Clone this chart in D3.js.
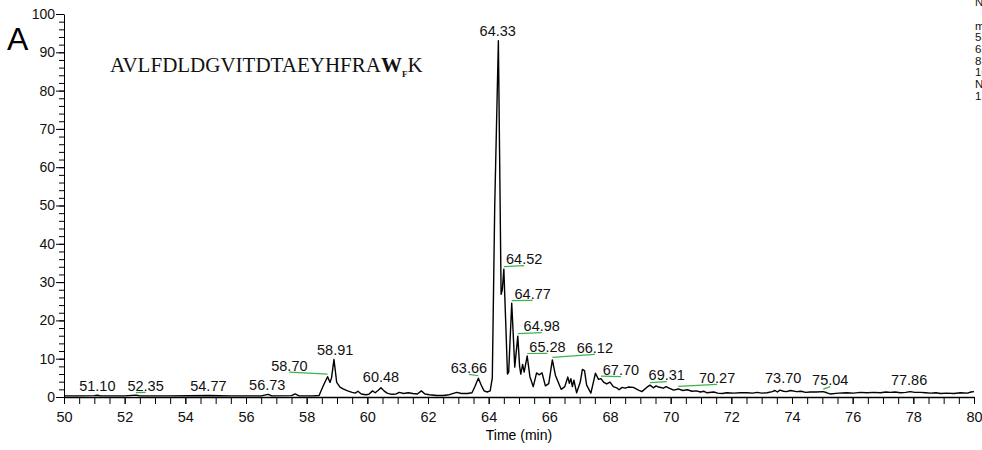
<!DOCTYPE html>
<html>
<head>
<meta charset="utf-8">
<script src="https://cdn.jsdelivr.net/npm/d3@7"></script>
<style>
  body { margin: 0; background: #fff; }
  svg { display: block; font-family: "Liberation Sans", Arial, sans-serif; }
</style>
</head>
<body>
<script>
// chromatogram trace: [time (min), relative abundance]
const trace = [
  [50.0, 0.3], [50.5, 0.3], [51.0, 0.35], [51.1, 0.45], [51.2, 0.3], [52.0, 0.3],
  [52.37, 0.5], [52.5, 0.3], [53.5, 0.3], [54.77, 0.4], [55.5, 0.3], [56.5, 0.3],
  [56.73, 0.7], [56.85, 0.3], [57.5, 0.35], [57.62, 0.8], [57.75, 0.3], [58.2, 0.3],
  [58.41, 0.4], [58.55, 3.0], [58.69, 5.3], [58.77, 3.8], [58.82, 5.0], [58.9, 9.8],
  [58.99, 3.8], [59.1, 2.6], [59.2, 2.1], [59.35, 1.6], [59.5, 1.2], [59.6, 1.0],
  [59.69, 1.5], [59.8, 0.8], [59.95, 0.6], [60.05, 0.7], [60.17, 1.6], [60.26, 1.1],
  [60.35, 1.7], [60.45, 2.4], [60.55, 1.6], [60.65, 1.0], [60.8, 0.7], [60.95, 0.8],
  [61.05, 1.2], [61.2, 0.9], [61.35, 1.1], [61.5, 0.9], [61.65, 0.8], [61.78, 1.6],
  [61.9, 0.8], [62.05, 0.6], [62.3, 0.4], [62.5, 0.4], [62.7, 0.6], [62.95, 1.2],
  [63.1, 0.9], [63.3, 0.9], [63.45, 1.1], [63.55, 2.8], [63.66, 4.9], [63.76, 3.0],
  [63.85, 1.6], [63.95, 1.3], [64.05, 1.6], [64.12, 5], [64.2, 50], [64.32, 93],
  [64.41, 26.8], [64.45, 28], [64.5, 33.4], [64.56, 20], [64.62, 6], [64.66, 6.5],
  [64.76, 24.5], [64.8, 18], [64.86, 7.8], [64.96, 15.9], [65.02, 8], [65.06, 6],
  [65.12, 8.5], [65.17, 6.5], [65.27, 10.7], [65.36, 5.3], [65.47, 2.7], [65.58, 6.3],
  [65.66, 5.8], [65.76, 6.3], [65.87, 2.9], [65.98, 3.5], [66.1, 9.7], [66.2, 5.7],
  [66.29, 3.9], [66.39, 2.0], [66.51, 2.7], [66.61, 5.2], [66.66, 3.6], [66.71, 4.8],
  [66.76, 2.7], [66.81, 4.4], [66.9, 1.1], [67.02, 3.9], [67.09, 7.2], [67.16, 6.9],
  [67.23, 3.1], [67.37, 1.0], [67.52, 6.2], [67.62, 4.6], [67.7, 4.8], [67.8, 3.8],
  [67.89, 3.4], [68.0, 3.9], [68.11, 2.7], [68.22, 2.4], [68.3, 1.9], [68.4, 2.5],
  [68.5, 2.3], [68.6, 2.6], [68.77, 2.5], [68.94, 1.8], [69.05, 1.4], [69.21, 2.5],
  [69.32, 3.1], [69.43, 2.4], [69.52, 2.9], [69.6, 2.6], [69.76, 2.3], [69.85, 2.7],
  [69.93, 2.4], [70.1, 1.8], [70.25, 2.1], [70.4, 1.7], [70.55, 1.9], [70.7, 1.5],
  [70.85, 1.6], [70.98, 1.3], [71.1, 1.5], [71.2, 1.1], [71.42, 1.3], [71.55, 1.0],
  [71.7, 0.9], [71.85, 1.1], [72.08, 1.0], [72.3, 1.1], [72.52, 1.1], [72.7, 1.0],
  [72.85, 1.2], [73.0, 1.0], [73.18, 1.1], [73.35, 1.4], [73.44, 1.7], [73.52, 1.3],
  [73.6, 1.8], [73.72, 1.5], [73.82, 1.4], [73.95, 1.7], [74.15, 1.4], [74.3, 1.5],
  [74.45, 1.2], [74.6, 1.3], [74.8, 1.3], [75.03, 1.4], [75.15, 1.1], [75.26, 0.8],
  [75.54, 1.0], [75.8, 1.1], [76.03, 1.0], [76.25, 1.2], [76.47, 1.1], [76.7, 1.2],
  [76.91, 1.1], [77.1, 1.3], [77.24, 1.2], [77.4, 1.3], [77.57, 1.1], [77.75, 1.2],
  [77.9, 1.4], [78.05, 1.2], [78.24, 1.2], [78.4, 1.1], [78.57, 1.0], [78.75, 1.1],
  [78.9, 0.9], [79.1, 1.0], [79.34, 0.9], [79.55, 1.1], [79.78, 1.0], [79.9, 1.3],
  [80.0, 1.4]
];

// peak labels: retention time, where the label sits (time, abundance)
const peakTimes = [51.10, 52.35, 54.77, 56.73, 58.70, 58.91, 60.48, 63.66, 64.33, 64.52,
  64.77, 64.98, 65.28, 66.12, 67.70, 69.31, 70.27, 73.70, 75.04, 77.86];
const labelTimes = [51.10, 52.69, 54.76, 56.70, 57.43, 58.94, 60.45, 63.35, 64.30, 65.17,
  65.45, 65.75, 65.94, 67.50, 68.36, 69.87, 71.53, 73.71, 75.26, 77.86];
const labelLevels = [1.6, 1.6, 1.6, 1.8, 6.9, 11.0, 3.9, 6.3, 94.3, 34.7,
  25.6, 17.2, 11.8, 11.5, 5.7, 4.4, 3.7, 3.7, 3.1, 3.1];

const xTicks = d3.range(50, 81, 2);
const xMinor = d3.range(50, 80.01, 0.5);
const yTicks = d3.range(0, 101, 10);
const yMinor = d3.range(0, 100.01, 2);

const peptide = "AVLFDLDGVITDTAEYHFRA";
const headerLines = ["NL: 9.12E6", "m/z=", "531.2601-531.2654", "637.3110-637.3174",
  "835.4120-835.4204", "1062.514-1062.525", "NL:", "1.40E7"];

const width = 982;
const height = 450;

const svg = d3
  .select("body")
  .append("svg")
  .attr("width", width)
  .attr("height", height);

const xScale = d3.scaleLinear().domain([50, 80]).range([64, 974]);
const yScale = d3.scaleLinear().domain([0, 100]).range([397, 14]);

// minor ticks first, then the labelled axes on top
svg.append("g")
  .attr("transform", "translate(0, 397)")
  .call(d3.axisBottom(xScale).tickValues(xMinor).tickSize(7).tickFormat(""))
  .call((g) => g.select(".domain").remove());

svg.append("g")
  .attr("transform", "translate(64, 0)")
  .call(d3.axisLeft(yScale).tickValues(yMinor).tickSize(5).tickFormat(""))
  .call((g) => g.select(".domain").remove());

svg.append("g")
  .attr("id", "x-axis")
  .attr("transform", "translate(0, 397)")
  .call(d3.axisBottom(xScale).tickValues(xTicks).tickSize(7).tickSizeOuter(0).tickPadding(7.5))
  .style("font-size", "14.5px")
  .style("font-family", "Liberation Sans, Arial, sans-serif")
  .call((g) => g.select(".domain").attr("stroke-width", 1.6));

svg.append("g")
  .attr("id", "y-axis")
  .attr("transform", "translate(64, 0)")
  .call(d3.axisLeft(yScale).tickValues(yTicks).tickSize(8).tickSizeOuter(0).tickPadding(1))
  .style("font-size", "14px")
  .style("font-family", "Liberation Sans, Arial, sans-serif");

svg.selectAll(".tick text").attr("fill", "#111");

svg.append("text")
  .attr("x", (xScale(50) + xScale(80)) / 2)
  .attr("y", 440)
  .attr("text-anchor", "middle")
  .style("font-size", "14px")
  .text("Time (min)");

// trace
const line = d3.line()
  .x((d) => xScale(d[0]))
  .y((d) => yScale(d[1]));

svg.append("path")
  .datum(trace)
  .attr("d", line)
  .attr("fill", "none")
  .attr("stroke", "#000")
  .attr("stroke-width", 1.4)
  .attr("stroke-linejoin", "round");

// peak labels and their green leader lines
const apex = (t) => trace.reduce((a, b) => (Math.abs(b[0] - t) < Math.abs(a[0] - t) ? b : a));

peakTimes.forEach((t, i) => {
  const lx = xScale(labelTimes[i]);
  const ly = yScale(labelLevels[i]);
  if (Math.abs(labelTimes[i] - t) > 0.1) {
    const p = apex(t);
    svg.append("line")
      .attr("x1", lx)
      .attr("y1", ly + 1.5)
      .attr("x2", xScale(p[0]))
      .attr("y2", yScale(p[1]) - 2.5)
      .attr("stroke", "#3cb44b")
      .attr("stroke-width", 1.2);
  }
  svg.append("text")
    .attr("x", lx)
    .attr("y", ly)
    .attr("text-anchor", "middle")
    .style("font-size", "14.5px")
    .attr("fill", "#111")
    .text(t.toFixed(2));
});

// panel letter and peptide sequence
svg.append("text")
  .attr("x", 7)
  .attr("y", 50)
  .style("font-size", "32px")
  .text("A");

const pep = svg.append("text")
  .attr("x", 110)
  .attr("y", 71.7)
  .style("font-family", "Liberation Serif, Times New Roman, serif")
  .style("font-size", "21px")
  .attr("fill", "#111");
pep.append("tspan").text(peptide);
pep.append("tspan").attr("font-weight", "bold").text("W");
pep.append("tspan").attr("font-weight", "bold").attr("font-size", "9px").attr("dy", 5).text("F");
pep.append("tspan").attr("dy", -5).text("K");

// header text, cut off by the right edge
svg.selectAll(".header")
  .data(headerLines)
  .enter()
  .append("text")
  .attr("class", "header")
  .attr("x", 975)
  .attr("y", (d, i) => (i === 0 ? 6 : 29.5 + (i - 1) * 11.7))
  .style("font-size", "11.5px")
  .attr("fill", "#111")
  .text((d) => d);
</script>
</body>
</html>
